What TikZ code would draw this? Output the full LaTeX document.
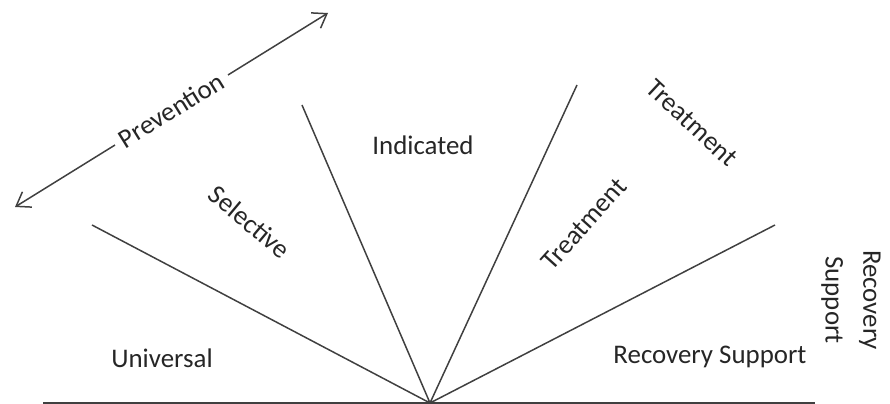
\documentclass[tikz,border=0pt]{standalone}
\usepackage{fontspec}
\setmainfont{Carlito}
\usetikzlibrary{arrows.meta}
\definecolor{linegray}{HTML}{404040}

\begin{document}
\begin{tikzpicture}[every node/.style={font=\fontsize{15.3}{17}\selectfont,text=black!85},
  fan/.style={draw=linegray,line width=0.85pt}]
  \useasboundingbox (0,0) rectangle (17.8,8.08);
  \path (8.6,0.02) coordinate (o) (0.86,0.02) coordinate (bl) (16.3,0.02) coordinate (br)
  (1.84,3.58) coordinate (e1) (6.04,5.98) coordinate (e2) (11.54,6.38) coordinate (e3) (15.5,3.58) coordinate (e4)
  (0.3,3.94) coordinate (a0) (6.56,7.82) coordinate (a1);
  \draw[fan] (bl) -- (br);
  \draw[fan] (e1) -- (o) -- (e2) (e3) -- (o) -- (e4);
  \draw[fan,{Straight Barb[length=2.6mm,width=3.6mm]}-{Straight Barb[length=2.6mm,width=3.6mm]}]
    (a0) -- node[sloped,fill=white,inner xsep=4pt] (prev) {Prevention} (a1);
  \path (3.24,0.92) node (univ) {Universal} (5.0,3.64) node[rotate=-40] (sel) {Selective}
  (8.46,5.18) node (ind) {Indicated} (11.68,3.6) node[rotate=48] (treat1) {Treatment}
  (13.84,5.62) node[rotate=-43] (treat2) {Treatment} (14.2,0.94) node (rec1) {Recovery Support}
  (17.02,2.08) node[rotate=-90,align=center,inner sep=0pt,font=\fontsize{15.3}{21.5}\selectfont] (rec2) {Recovery\\Support};
\end{tikzpicture}
\end{document}
